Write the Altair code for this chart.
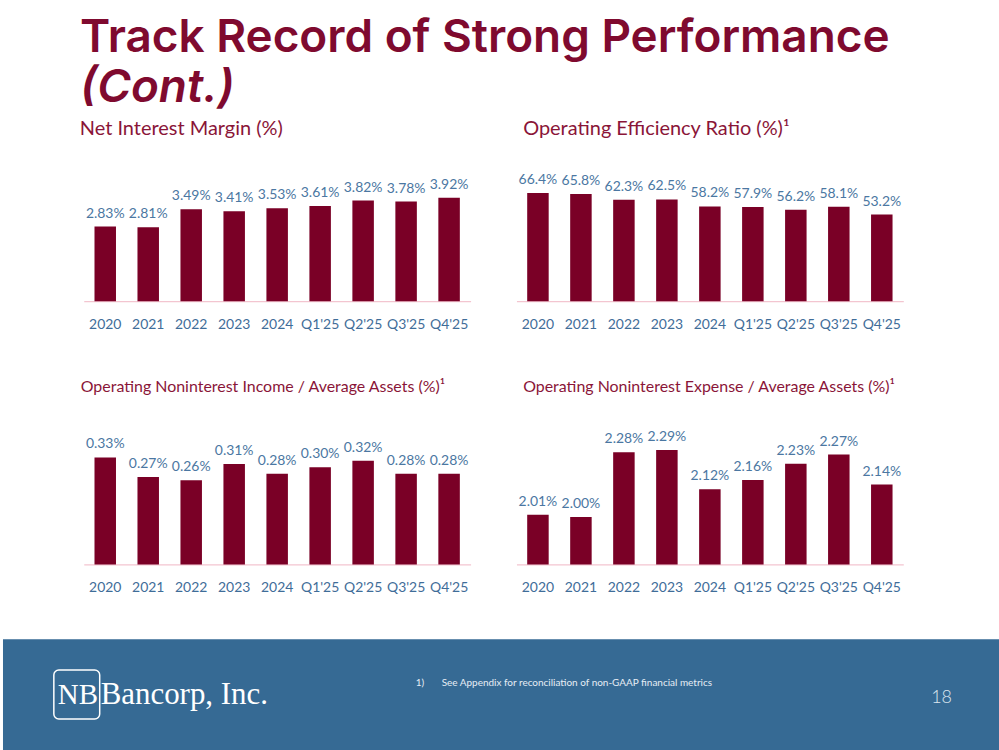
import altair as alt
import pandas as pd

# ---------------- data ----------------
periods = ["2020", "2021", "2022", "2023", "2024", "Q1'25", "Q2'25", "Q3'25", "Q4'25"]
net_interest_margin = [2.83, 2.81, 3.49, 3.41, 3.53, 3.61, 3.82, 3.78, 3.92]
efficiency_ratio = [66.4, 65.8, 62.3, 62.5, 58.2, 57.9, 56.2, 58.1, 53.2]
nonint_income = [0.33, 0.27, 0.26, 0.31, 0.28, 0.30, 0.32, 0.28, 0.28]
nonint_expense = [2.01, 2.00, 2.28, 2.29, 2.12, 2.16, 2.23, 2.27, 2.14]

main_title = "Track Record of Strong Performance"
main_subtitle = "(Cont.)"
panel_titles = [
    "Net Interest Margin (%)",
    "Operating Efficiency Ratio (%)\u00b9",
    "Operating Noninterest Income / Average Assets (%)\u00b9",
    "Operating Noninterest Expense / Average Assets (%)\u00b9",
]
footnote_num = "1)"
footnote_text = "See Appendix for reconciliation of non-GAAP financial metrics"
page_number = "18"
logo_mark = "NB"
logo_name = "Bancorp, Inc."

# ---------------- style ----------------
BAR = "#7a0026"
TITLE = "#7f0a2f"
PTITLE = "#8a1538"
LABEL = "#4b77a2"
AXLAB = "#3f6d99"
PINK = "#f3c5d0"
FOOT = "#366a94"
FONT = "Lato"


def panel(values, decimals, title, tsize, tdx, toff, ymin, ymax, h):
    df = pd.DataFrame({
        "period": periods,
        "value": values,
        "label": [f"{v:.{decimals}f}%" for v in values],
    })
    base = alt.Chart(df)
    x = alt.X(
        "period:N", sort=periods, title=None,
        scale=alt.Scale(paddingInner=0.5, paddingOuter=0.25),
        axis=alt.Axis(labelAngle=0, labelFont=FONT, labelFontSize=14,
                      labelColor=AXLAB, labelPadding=16, ticks=False,
                      domainColor=PINK, domainWidth=1.3, grid=False),
    )
    y = alt.Y("value:Q", title=None, axis=None,
              scale=alt.Scale(domain=[ymin, ymax], zero=False, nice=False))
    bars = base.mark_bar(color=BAR).encode(x=x, y=y, y2=alt.datum(ymin))
    labels = base.mark_text(font=FONT, fontSize=14, color=LABEL,
                            baseline="alphabetic", dy=-9).encode(x=x, y=y, text="label:N")
    return alt.layer(bars, labels).properties(
        width=388, height=h,
        title=alt.TitleParams(title, anchor="start", dx=tdx, font=FONT,
                              fontSize=tsize, fontWeight="normal", color=PTITLE,
                              baseline="alphabetic", offset=toff),
    )


def spacer(w):
    return alt.Chart(pd.DataFrame({"k": [0]})).mark_point(opacity=0).encode(
        x=alt.value(0), y=alt.value(0)
    ).properties(width=w, height=1)


p1 = panel(net_interest_margin, 2, panel_titles[0], 20, -4, -5, 0, 5.747, 152)
p2 = panel(efficiency_ratio, 1, panel_titles[1], 20, 6.7, -5, 0, 93.08, 152)
p3 = panel(nonint_income, 2, panel_titles[2], 16, -3, -2, 0, 0.489, 159)
p4 = panel(nonint_expense, 2, panel_titles[3], 16, 6.7, -2, 1.795, 2.480, 159)

row1 = alt.hconcat(spacer(31), p1, p2, spacing=46)
row2 = alt.hconcat(spacer(32), p3, p4, spacing=46)

# ---------------- footer ----------------
one = pd.DataFrame({"k": [0]})
box = alt.Chart(one).mark_rect(fill="transparent", stroke="white", strokeWidth=1.5,
                               cornerRadius=5).encode(
    x=alt.value(51), x2=alt.value(97), y=alt.value(31), y2=alt.value(80))
nb = alt.Chart(pd.DataFrame({"t": [logo_mark]})).mark_text(
    font="Liberation Serif", fontSize=29, color="white", align="left",
    baseline="alphabetic").encode(text="t:N", x=alt.value(55), y=alt.value(65))
name = alt.Chart(pd.DataFrame({"t": [logo_name]})).mark_text(
    font="Liberation Serif", fontSize=31, color="white", align="left",
    baseline="alphabetic").encode(text="t:N", x=alt.value(98), y=alt.value(65))
fn1 = alt.Chart(pd.DataFrame({"t": [footnote_num]})).mark_text(
    font=FONT, fontSize=10, color="#e6edf4", align="left",
    baseline="middle").encode(text="t:N", x=alt.value(414), y=alt.value(44))
fn2 = alt.Chart(pd.DataFrame({"t": [footnote_text]})).mark_text(
    font=FONT, fontSize=10, color="#e6edf4", align="left",
    baseline="middle").encode(text="t:N", x=alt.value(440), y=alt.value(44))
pg = alt.Chart(pd.DataFrame({"t": [page_number]})).mark_text(
    font=FONT, fontSize=18, fontWeight=300, color="#dce6ef", align="left",
    baseline="alphabetic").encode(text="t:N", x=alt.value(931), y=alt.value(64))
footer = alt.layer(box, nb, name, fn1, fn2, pg).properties(
    width=999, height=111, view=alt.ViewBackground(fill=FOOT, stroke=None))

body = alt.vconcat(row1, row2, spacing=48)
chart = alt.vconcat(body, footer, spacing=45).properties(
    title=alt.TitleParams(
        main_title, subtitle=main_subtitle, anchor="start", dx=80,
        font="Inter", fontSize=46, fontWeight=600, color=TITLE,
        subtitleFont="Inter", subtitleFontSize=46, subtitleFontWeight=600,
        subtitleFontStyle="italic", subtitleColor=TITLE,
        subtitlePadding=4, offset=-29, baseline="alphabetic"),
    padding={"left": 0, "top": 14, "right": 0, "bottom": 0},
    background="white",
).configure_view(strokeWidth=0)

chart.save("out.html", embed_options={"renderer": "svg", "actions": False})
